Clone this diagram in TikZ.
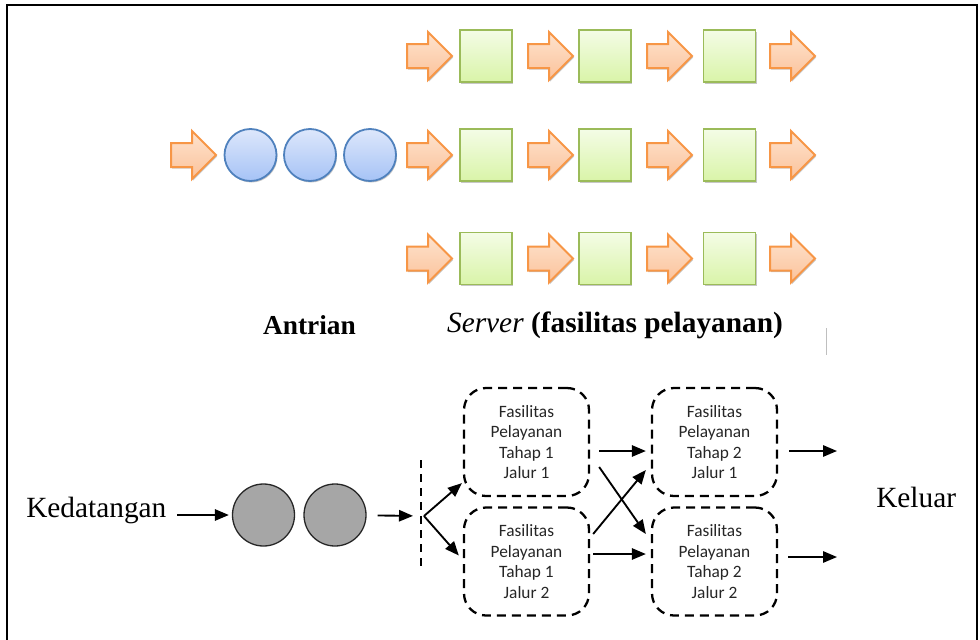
\documentclass[tikz,border=0pt]{standalone}
\usepackage{fontspec}
\setmainfont{Liberation Serif}
\newfontfamily\boxfont{Carlito}
\usetikzlibrary{shapes.arrows,shadows,arrows.meta,calc}

% one unit of the drawing grid
\newdimen\pxu \pxu=0.75pt

\definecolor{arrline}{HTML}{F79646}
\definecolor{arrtop}{HTML}{FEE3CE}
\definecolor{arrbot}{HTML}{FBC29A}
\definecolor{sqline}{HTML}{9BBB59}
\definecolor{sqtop}{HTML}{F4FCE6}
\definecolor{sqbot}{HTML}{D9F4A8}
\definecolor{cirline}{HTML}{4F81BD}
\definecolor{cirtop}{HTML}{DDE7FB}
\definecolor{cirbot}{HTML}{A6C3F6}

\tikzset{
  softshadow/.style={drop shadow={shadow xshift=1\pxu, shadow yshift=-1.5\pxu, opacity=0.22, fill=black}},
  flowarrow/.style={single arrow, draw=arrline, line width=2\pxu,
    top color=arrtop, bottom color=arrbot,
    minimum height=45\pxu, minimum width=46\pxu,
    single arrow head extend=12\pxu, inner xsep=0pt, inner ysep=11\pxu,
    anchor=tail, softshadow},
  serverbox/.style={rectangle, draw=sqline, line width=1.8\pxu,
    top color=sqtop, bottom color=sqbot, minimum size=52\pxu, inner sep=0pt, softshadow},
  queuecirc/.style={circle, draw=cirline, line width=1.8\pxu,
    top color=cirtop, bottom color=cirbot, minimum size=52\pxu, inner sep=0pt, softshadow},
  greycirc/.style={circle, draw=black!85, line width=1.3\pxu, fill=black!35,
    minimum size=62\pxu, inner sep=0pt},
  stagebox/.style={rectangle, rounded corners=22\pxu, draw, line width=2.3\pxu,
    dash pattern=on 9\pxu off 6\pxu, minimum width=125\pxu, minimum height=108\pxu,
    align=center, font=\boxfont\fontsize{13}{15.4}\selectfont, text=black!85},
  flow/.style={line width=1.4pt, -{Triangle[length=10.5pt,width=8.5pt]}},
  bigserif/.style={font=\fontsize{22}{26}\selectfont, inner sep=0pt},
  toplabel/.style={font=\fontsize{20}{24}\selectfont, inner sep=0pt}
}

\begin{document}
\begin{tikzpicture}[x=1\pxu, y=-1\pxu]
\useasboundingbox (0,0) rectangle (980,639);

% outer frame (open at the bottom)
\draw[line width=2.2\pxu] (7,645) -- (7,5) -- (977,5) -- (977,645);
\draw[black!25, line width=0.6\pxu] (826,328) -- (826,355);

% ---- multi-channel, multi-phase servers ----
\foreach \r/\y in {1/56, 2/155, 3/258.5} {
  \node[flowarrow] (a\r1) at (406,\y) {};
  \node[serverbox] (s\r1) at (486,\y) {};
  \node[flowarrow] (a\r2) at (527,\y) {};
  \node[serverbox] (s\r2) at (605,\y) {};
  \node[flowarrow] (a\r3) at (646,\y) {};
  \node[serverbox] (s\r3) at (729.5,\y) {};
  \node[flowarrow] (a\r4) at (769,\y) {};
}
% queue in front of the middle row
\node[flowarrow] (ain) at (170,155) {};
\node[queuecirc] (q1) at (250.5,155) {};
\node[queuecirc] (q2) at (310,155) {};
\node[queuecirc] (q3) at (370,155) {};

\node[toplabel, font=\fontsize{20.5}{24}\selectfont\bfseries] (antrian) at (309.5,325) {Antrian};
\node[toplabel, font=\fontsize{22}{24}\selectfont] (serverlbl) at (615,325) {\textit{Server} \textbf{(fasilitas pelayanan)}};

% ---- two-phase, two-lane system ----
\node[bigserif, anchor=base west] (ked) at (26,517) {Kedatangan};
\node[greycirc] (g1) at (263.5,515) {};
\node[greycirc] (g2) at (335,515) {};

\coordinate (split) at (424,516);
\coordinate (dtop) at (421,460);
\coordinate (dbot) at (421,570);
\draw[line width=2.2\pxu, dash pattern=on 8\pxu off 6\pxu] (dtop) -- (dbot);

\node[stagebox] (b11) at (526.5,442) {Fasilitas\\Pelayanan\\Tahap 1\\Jalur 1};
\node[stagebox] (b12) at (526.5,561.5) {Fasilitas\\Pelayanan\\Tahap 1\\Jalur 2};
\node[stagebox] (b21) at (714.5,442) {Fasilitas\\Pelayanan\\Tahap 2\\Jalur 1};
\node[stagebox] (b22) at (714.5,561.5) {Fasilitas\\Pelayanan\\Tahap 2\\Jalur 2};

\node[bigserif, anchor=base west] (keluar) at (876,507) {Keluar};

\coordinate (out1) at (837,451);
\coordinate (out2) at (837,557);

\draw[flow, shorten <=8pt, shorten >=2.25pt] (ked.east |- g1) -- (g1);
\draw[flow, shorten <=8.25pt, shorten >=8.25pt] (g2) -- (split);
\draw[flow] (split) -- ($(b11.south west)+(-1,-14)$);
\draw[flow] (split) -- ($(b12.west)+(-4,-6)$);

\draw[flow] ($(b11.east)+(9,9)$) -- ($(b21.west)+(-5,9)$);
\draw[flow] ($(b12.east)+(3,-7.5)$) -- ($(b22.west)+(-5,-7.5)$);
\draw[flow] ($(b11.east)+(9,25)$) -- ($(b22.west)+(-5,-27.5)$);
\draw[flow] ($(b12.east)+(3,-27.5)$) -- ($(b21.west)+(-5,28)$);

\draw[flow] ($(b21.east)+(11,9)$) -- (out1);
\draw[flow] ($(b22.east)+(10,-4.5)$) -- (out2);
\end{tikzpicture}
\end{document}
